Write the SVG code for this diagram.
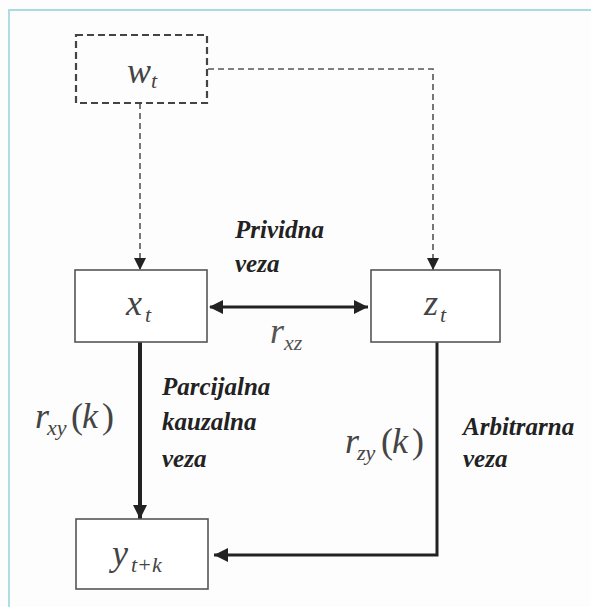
<svg xmlns="http://www.w3.org/2000/svg" width="591" height="607" viewBox="0 0 591 607">
<style>
.box{fill:#fff;stroke:#555;stroke-width:1.6}
.dbox{fill:none;stroke:#444;stroke-width:2.2;stroke-dasharray:7 4}
.dash{fill:none;stroke:#555;stroke-width:1.6;stroke-dasharray:6 4}
.thick{fill:none;stroke:#222;stroke-width:4}
.med{fill:none;stroke:#222;stroke-width:3}
</style>
<defs>
<marker id="ad" markerUnits="userSpaceOnUse" markerWidth="12" markerHeight="14" refX="12" refY="6" orient="auto">
<path d="M0,0 L12,6 L0,12 Z" fill="#222"/>
</marker>
<marker id="at" markerUnits="userSpaceOnUse" markerWidth="14" markerHeight="14" refX="14" refY="7" orient="auto">
<path d="M0,0 L14,7 L0,14 Z" fill="#222"/>
</marker>
<marker id="as" markerUnits="userSpaceOnUse" markerWidth="14" markerHeight="14" refX="1" refY="7" orient="auto">
<path d="M14,0 L0,7 L14,14 Z" fill="#222"/>
</marker>
</defs>
<rect x="0" y="0" width="591" height="607" fill="#fdfdfd"/>
<path d="M9,607 L9,10 L591,10" fill="none" stroke="#a6dbe0" stroke-width="1.8"/>
<g id="connectors">
<path class="dash" d="M140,103 L140,270" marker-end="url(#ad)"/>
<path class="dash" d="M208,69 L433,69 L433,270" marker-end="url(#ad)"/>
<path class="med" d="M210,307 L368,307" marker-start="url(#as)" marker-end="url(#at)"/>
<path class="thick" d="M140,342 L140,519" marker-end="url(#at)"/>
<path class="med" d="M437,342 L437,555 L214,555" marker-end="url(#at)"/>
</g>
<g id="node-w">
<rect class="dbox" x="76" y="35" width="131" height="68"/>
<text font-family="Times New Roman" font-style="italic" fill="#444" font-size="36" x="127" y="83">w</text>
<text font-family="Times New Roman" font-style="italic" fill="#444" font-size="22" x="151" y="88">t</text>
</g>
<g id="node-x">
<rect class="box" x="75" y="270" width="132" height="72"/>
<text font-family="Times New Roman" font-style="italic" fill="#444" font-size="36" x="126" y="315">x</text>
<text font-family="Times New Roman" font-style="italic" fill="#444" font-size="22" x="145" y="322">t</text>
</g>
<g id="node-z">
<rect class="box" x="371" y="270" width="129" height="72"/>
<text font-family="Times New Roman" font-style="italic" fill="#444" font-size="36" x="424" y="315">z</text>
<text font-family="Times New Roman" font-style="italic" fill="#444" font-size="22" x="440" y="322">t</text>
</g>
<g id="node-y">
<rect class="box" x="76" y="519" width="132" height="70"/>
<text font-family="Times New Roman" font-style="italic" fill="#444" font-size="36" x="112" y="565">y</text>
<text font-family="Times New Roman" font-style="italic" fill="#444" font-size="22" x="131" y="572">t+k</text>
</g>
<g id="labels">
<text font-family="Times New Roman" font-style="italic" font-weight="bold" font-size="25" fill="#222" x="235" y="238">Prividna</text>
<text font-family="Times New Roman" font-style="italic" font-weight="bold" font-size="25" fill="#222" x="235" y="272">veza</text>
<text font-family="Times New Roman" font-style="italic" fill="#555" font-size="36" x="270" y="343">r</text>
<text font-family="Times New Roman" font-style="italic" fill="#555" font-size="22" x="284" y="350">xz</text>
<text font-family="Times New Roman" font-style="italic" font-weight="bold" font-size="25" fill="#222" x="162" y="395">Parcijalna</text>
<text font-family="Times New Roman" font-style="italic" font-weight="bold" font-size="25" fill="#222" x="162" y="430">kauzalna</text>
<text font-family="Times New Roman" font-style="italic" font-weight="bold" font-size="25" fill="#222" x="162" y="467">veza</text>
<text font-family="Times New Roman" font-style="italic" fill="#444" font-size="36" x="35" y="428">r</text>
<text font-family="Times New Roman" font-style="italic" fill="#444" font-size="22" x="47" y="435">xy</text>
<text font-family="Times New Roman" fill="#444" font-size="36" x="71" y="428">(</text>
<text font-family="Times New Roman" font-style="italic" fill="#444" font-size="36" x="82" y="428">k</text>
<text font-family="Times New Roman" fill="#444" font-size="36" x="102" y="428">)</text>
<text font-family="Times New Roman" font-style="italic" font-weight="bold" font-size="25" fill="#222" x="463" y="435">Arbitrarna</text>
<text font-family="Times New Roman" font-style="italic" font-weight="bold" font-size="25" fill="#222" x="463" y="467">veza</text>
<text font-family="Times New Roman" font-style="italic" fill="#444" font-size="36" x="345" y="453">r</text>
<text font-family="Times New Roman" font-style="italic" fill="#444" font-size="22" x="357" y="460">zy</text>
<text font-family="Times New Roman" fill="#444" font-size="36" x="381" y="453">(</text>
<text font-family="Times New Roman" font-style="italic" fill="#444" font-size="36" x="392" y="453">k</text>
<text font-family="Times New Roman" fill="#444" font-size="36" x="412" y="453">)</text>
</g>
</svg>
